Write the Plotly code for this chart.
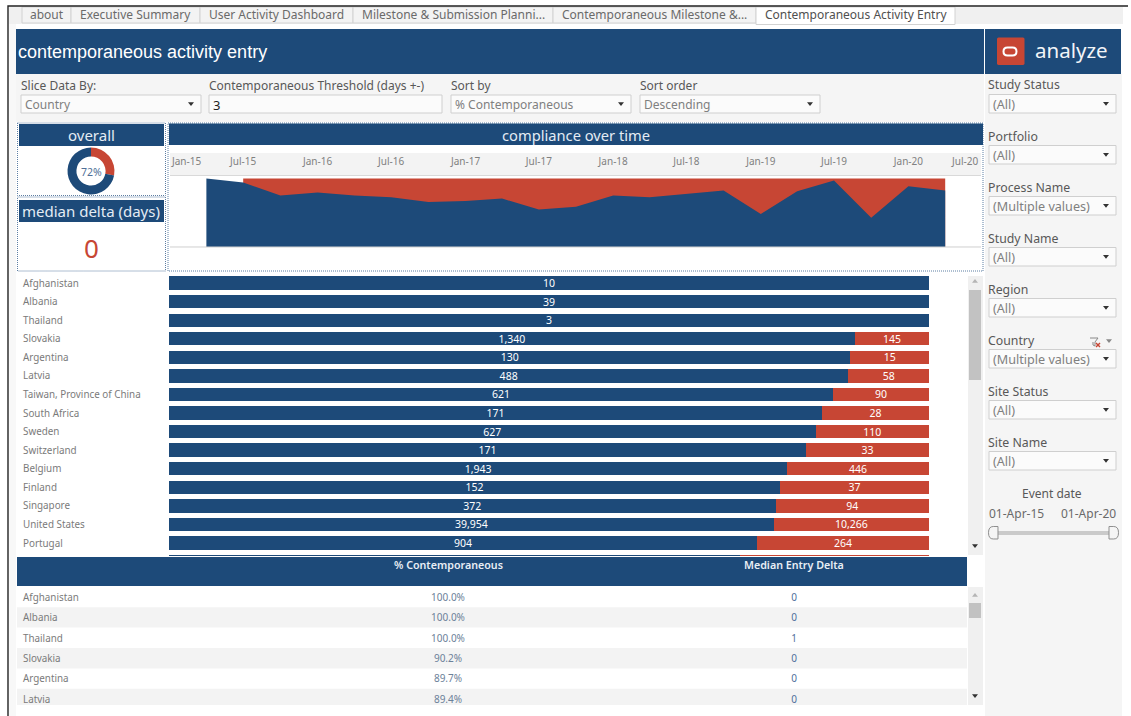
import plotly.graph_objects as go

# ---------- data ----------
bar_countries = ["Afghanistan", "Albania", "Thailand", "Slovakia", "Argentina", "Latvia",
                 "Taiwan, Province of China", "South Africa", "Sweden", "Switzerland", "Belgium",
                 "Finland", "Singapore", "United States", "Portugal", " "]
contemporaneous = [10, 39, 3, 1340, 130, 488, 621, 171, 627, 171, 1943, 152, 372, 39954, 904, 751]
not_contemporaneous = [0, 0, 0, 145, 15, 58, 90, 28, 110, 33, 446, 37, 94, 10266, 264, 249]

quarters = ["2015-04-01", "2015-07-01", "2015-10-01", "2016-01-01", "2016-04-01", "2016-07-01",
            "2016-10-01", "2017-01-01", "2017-04-01", "2017-07-01", "2017-10-01", "2018-01-01",
            "2018-04-01", "2018-07-01", "2018-10-01", "2019-01-01", "2019-04-01", "2019-07-01",
            "2019-10-01", "2020-01-01", "2020-04-01"]
pct_contemporaneous = [100, 94.1, 75.0, 79.4, 75.0, 72.5, 65.7, 67.2, 70.6, 54.9, 58.8, 75.0,
                       72.5, 77.5, 82.4, 48.0, 81.4, 97.0, 42.6, 88.7, 82.4]
pct_not_contemporaneous = [None, 5.9, 25.0, 20.6, 25.0, 27.5, 34.3, 32.8, 29.4, 45.1, 41.2, 25.0,
                           27.5, 22.5, 17.6, 52.0, 18.6, 3.0, 57.4, 11.3, 17.6]
time_ticks = ["2015-07-01", "2016-01-01", "2016-07-01", "2017-01-01", "2017-07-01", "2018-01-01",
              "2018-07-01", "2019-01-01", "2019-07-01", "2020-01-01"]

overall_split = [28, 72]
overall_label = "72%"
median_delta = "0"

table_countries = ["Afghanistan", "Albania", "Thailand", "Slovakia", "Argentina", "Latvia"]
table_pct = ["100.0%", "100.0%", "100.0%", "90.2%", "89.7%", "89.4%"]
table_median = ["0", "0", "1", "0", "0", "0"]
table_columns = ["% Contemporaneous", "Median Entry Delta"]

tabs = ["about", "Executive Summary", "User Activity Dashboard", "Milestone & Submission Planni...",
        "Contemporaneous Milestone &...", "Contemporaneous Activity Entry"]
side_filters = ["Study Status", "Portfolio", "Process Name", "Study Name", "Region", "Country",
                "Site Status", "Site Name"]
side_values = ["(All)", "(All)", "(Multiple values)", "(All)", "(All)", "(Multiple values)",
               "(All)", "(All)"]

# ---------- style ----------
W, H = 1131, 716
BLUE, RED = "#1d4a79", "#c74634"
PANEL = "#f5f5f5"
FONT = "Noto Sans"
GREY_TXT = "#7a7a7a"
DOT = "#5d7ea3"


def X(x):
    return x / W


def Y(y):
    return 1 - y / H


shapes, notes = [], []


def rect(x0, y0, x1, y1, fill=None, line=None, dash=None, lw=1):
    shapes.append(dict(type="rect", xref="paper", yref="paper", x0=X(x0), x1=X(x1), y0=Y(y0), y1=Y(y1),
                       fillcolor=fill or "rgba(0,0,0,0)", layer="below",
                       line=dict(color=line or "rgba(0,0,0,0)", width=lw if line else 0, dash=dash or "solid")))


def poly(points, fill=None, line=None, lw=1):
    path = "M " + " L ".join(f"{X(a):.5f},{Y(b):.5f}" for a, b in points) + (" Z" if fill else "")
    shapes.append(dict(type="path", xref="paper", yref="paper", path=path, layer="above",
                       fillcolor=fill or "rgba(0,0,0,0)",
                       line=dict(color=line or "rgba(0,0,0,0)", width=lw if line else 0)))


def rounded(x0, y0, x1, y1, r, fill=None, line=None, lw=1):
    p = (f"M {X(x0 + r):.5f},{Y(y0):.5f} L {X(x1 - r):.5f},{Y(y0):.5f} "
         f"Q {X(x1):.5f},{Y(y0):.5f} {X(x1):.5f},{Y(y0 + r):.5f} L {X(x1):.5f},{Y(y1 - r):.5f} "
         f"Q {X(x1):.5f},{Y(y1):.5f} {X(x1 - r):.5f},{Y(y1):.5f} L {X(x0 + r):.5f},{Y(y1):.5f} "
         f"Q {X(x0):.5f},{Y(y1):.5f} {X(x0):.5f},{Y(y1 - r):.5f} L {X(x0):.5f},{Y(y0 + r):.5f} "
         f"Q {X(x0):.5f},{Y(y0):.5f} {X(x0 + r):.5f},{Y(y0):.5f} Z")
    shapes.append(dict(type="path", xref="paper", yref="paper", path=p, layer="above",
                       fillcolor=fill or "rgba(0,0,0,0)",
                       line=dict(color=line or "rgba(0,0,0,0)", width=lw if line else 0)))


def handle(flat, cap, y0, y1):
    mid = (y0 + y1) / 2
    p = (f"M {X(flat):.5f},{Y(y0):.5f} L {X((flat + cap) / 2):.5f},{Y(y0):.5f} "
         f"Q {X(cap):.5f},{Y(y0):.5f} {X(cap):.5f},{Y(mid):.5f} "
         f"Q {X(cap):.5f},{Y(y1):.5f} {X((flat + cap) / 2):.5f},{Y(y1):.5f} L {X(flat):.5f},{Y(y1):.5f} Z")
    shapes.append(dict(type="path", xref="paper", yref="paper", path=p, layer="above", fillcolor=PANEL,
                       line=dict(color="#8f8f8f", width=1)))


def text(x, y, s, size=12, color=GREY_TXT, anchor="left", family=FONT, weight=None):
    font = dict(size=size, color=color, family=family)
    if weight:
        font["weight"] = weight
    notes.append(dict(xref="paper", yref="paper", x=X(x), y=Y(y), text=s, showarrow=False, xanchor=anchor,
                      yanchor="middle", borderpad=0, borderwidth=0, font=font))


def down_arrow(cx, cy, color="#333333", s=3):
    poly([(cx - s, cy - s * 0.6), (cx + s, cy - s * 0.6), (cx, cy + s * 0.7)], fill=color)


def up_arrow(cx, cy, color="#b5b5b5", s=3):
    poly([(cx - s, cy + s * 0.6), (cx + s, cy + s * 0.6), (cx, cy - s * 0.7)], fill=color)


def dropdown(x0, y0, x1, y1, s, arrow=True, color="#808080", size=12):
    rect(x0, y0, x1, y1, fill="#fbfbfb", line="#cfcfcf")
    text(x0 + 4, (y0 + y1) / 2 + 0.7, s, size=size, color=color)
    if arrow:
        down_arrow(x1 - 10, (y0 + y1) / 2)


# page frame
rect(0, 0, W, H, fill="#ffffff")
rect(9, 6, 16, H, fill="#f8f8f8")
poly([(8, H), (8, 6), (1128, 6)], line="#222222", lw=1.4)

# tabs
tab_edges = [22, 71, 200, 353, 553, 756, 955]
rect(9, 7, 1123, 24, fill="#f0f0f0")
for i, t in enumerate(tabs):
    active = i == len(tabs) - 1
    rect(tab_edges[i], 7, tab_edges[i + 1], 24.5 if active else 23, fill="#ffffff" if active else "#f3f3f3", line="#d2d2d2")
    text((tab_edges[i] + tab_edges[i + 1]) / 2, 15, t, size=12, color="#505050" if active else "#6a6a6a", anchor="center")

# banner
rect(16, 29, 984, 74, fill=BLUE)
rect(985, 29, 1121, 74, fill=BLUE)
text(18, 52, "contemporaneous activity entry", size=18, color="#ffffff", family="Liberation Sans")
rounded(997, 37.5, 1024.5, 65, 1.5, fill=RED)
rounded(1003.5, 47.5, 1016.5, 55.5, 4, line="#ffffff", lw=2)
text(1035, 50, "analyze", size=20.5, color="#f2f5f8")

# filter band
rect(16, 74, 984, 122, fill=PANEL)
rect(985, 74, 1122, H, fill=PANEL)
text(21, 86, "Slice Data By:", size=12, color="#585858")
text(209, 86, "Contemporaneous Threshold (days +-)", size=12, color="#585858")
text(451, 86, "Sort by", size=12, color="#585858")
text(640, 86, "Sort order", size=12, color="#585858")
dropdown(21, 95, 201, 113, "Country")
dropdown(209, 95, 442, 113, "3", arrow=False, color="#222222", size=13)
dropdown(451, 95, 631, 113, "% Contemporaneous")
dropdown(640, 95, 820, 113, "Descending")

# side filters
for i, (name, val) in enumerate(zip(side_filters, side_values)):
    y = 85 + 51 * i
    text(988, y, name, size=12.3, color="#585858")
    dropdown(989, y + 9.5, 1116, y + 28, val, size=12.6)
poly([(1090, 338), (1098, 338), (1095, 342), (1095, 346), (1093, 345), (1093, 342)], line="#888888")
poly([(1096, 343), (1100, 347)], line=RED, lw=1.4)
poly([(1100, 343), (1096, 347)], line=RED, lw=1.4)
down_arrow(1109, 341, color="#888888")

# slider
text(1052, 493, "Event date", size=12, color="#585858", anchor="center")
text(989, 513, "01-Apr-15", size=12, color="#6a6a6a")
text(1116, 513, "01-Apr-20", size=12, color="#6a6a6a", anchor="right")
rect(995, 531, 1111, 535, fill="#cacaca")
handle(998, 988.5, 526.5, 539)
handle(1109, 1118.5, 526.5, 539)

# KPI and time panels
rect(17.5, 123, 165.5, 195.5, line=DOT, dash="1px,1px")
rect(17.5, 197, 165.5, 271, line=DOT, dash="1px,1px")
rect(168, 123, 983, 271, line=DOT, dash="1px,1px")
rect(19, 124, 164, 146, fill=BLUE)
rect(19, 200, 164, 222, fill=BLUE)
rect(169, 123.5, 983, 145, fill=BLUE)
rect(170, 153, 981, 175, fill="#f3f3f3")
poly([(170, 175.5), (981, 175.5)], line="#d9d9d9")
poly([(170, 247), (981, 247)], line="#cfcfcf")
text(91, 135, "overall", size=15, color="#e4ecf4", anchor="center")
text(91, 211, "median delta (days)", size=15, color="#e4ecf4", anchor="center")
text(576, 134.5, "compliance over time", size=14.7, color="#e4ecf4", anchor="center")
text(91, 248, median_delta, size=26, color=RED, anchor="center")
text(91, 171.5, overall_label, size=10.5, color="#4f6f97", anchor="center")

# scrollbars
for top, bottom, t0, t1 in [(276, 555, 290, 380), (587, 705, 603, 618)]:
    rect(968, top, 983, bottom, fill="#f0f0f0")
    rect(969, t0, 981, t1, fill="#c2c2c2")
    up_arrow(975, top + (5 if top == 276 else 8))
    down_arrow(975, bottom - 9)

# table chrome
rect(17, 557, 967, 586, fill=BLUE)
for i in range(1, 6, 2):
    rect(17, 586.8 + 20.4 * i, 967, min(586.8 + 20.4 * (i + 1), 705), fill="#f3f3f3")
text(448, 565, table_columns[0], size=10.7, color="#e8eef5", anchor="center", weight=600)
text(794, 565, table_columns[1], size=10.7, color="#e8eef5", anchor="center", weight=600)

# country labels
for c in bar_countries:
    notes.append(dict(xref="paper", yref="y", x=X(23), y=c, text=c, showarrow=False, xanchor="left", yanchor="middle",
                      borderpad=0, borderwidth=0, yshift=0.5, font=dict(size=9.85, color=GREY_TXT, family=FONT)))
for c in table_countries:
    notes.append(dict(xref="paper", yref="y3", x=X(23), y=c, text=c, showarrow=False, xanchor="left", yanchor="middle",
                      borderpad=0, borderwidth=0, yshift=1.5, font=dict(size=9.85, color=GREY_TXT, family=FONT)))

# end labels of the time axis
notes.append(dict(xref="x2", yref="paper", x="2015-01-01", y=Y(161), text="Jan-15", showarrow=False, xshift=16,
                  yanchor="middle", borderpad=0, font=dict(size=10, color="#808080", family=FONT)))
notes.append(dict(xref="x2", yref="paper", x="2020-07-01", y=Y(161), text="Jul-20", showarrow=False, xshift=-18,
                  yanchor="middle", borderpad=0, font=dict(size=10, color="#808080", family=FONT)))


def fmt(v):
    return f"{v:,}" if v else ""


# ---------- figure ----------
fig = go.Figure()

# stacked 100% bars
blue_labels = [fmt(v) for v in contemporaneous[:-1]] + [""]
red_labels = [fmt(v) for v in not_contemporaneous[:-1]] + [""]
for vals, lab, col in [(contemporaneous, blue_labels, BLUE), (not_contemporaneous, red_labels, RED)]:
    fig.add_trace(go.Bar(y=bar_countries, x=vals, orientation="h", marker=dict(color=col, line=dict(width=0)),
                         text=lab, textposition="inside", insidetextanchor="middle", textangle=0,
                         constraintext="none", cliponaxis=True,
                         textfont=dict(size=10.5, color="#ffffff", family=FONT),
                         xaxis="x", yaxis="y", hoverinfo="x+y"))

# compliance area
red_top = [None if r is None else b + r for b, r in zip(pct_contemporaneous, pct_not_contemporaneous)]
fig.add_trace(go.Scatter(x=quarters[1:], y=red_top[1:], mode="lines", line=dict(width=0), fill="tozeroy",
                         fillcolor=RED, xaxis="x2", yaxis="y2"))
fig.add_trace(go.Scatter(x=quarters, y=pct_contemporaneous, mode="lines", line=dict(width=0), fill="tozeroy",
                         fillcolor=BLUE, xaxis="x2", yaxis="y2"))

# table values
fig.add_trace(go.Scatter(x=[table_columns[0]] * 6, y=table_countries, mode="text", text=table_pct,
                         textposition="middle center", textfont=dict(size=10, color="#6c8199", family=FONT),
                         xaxis="x3", yaxis="y3", cliponaxis=True))
fig.add_trace(go.Scatter(x=[table_columns[1]] * 6, y=table_countries, mode="text", text=table_median,
                         textposition="middle center", textfont=dict(size=10, color="#4f6f9a", family=FONT),
                         xaxis="x3", yaxis="y3", cliponaxis=True))

# overall donut
fig.add_trace(go.Pie(values=overall_split, labels=["Not contemporaneous", "Contemporaneous"], sort=False,
                     direction="clockwise", rotation=0, hole=0.62, textinfo="none",
                     marker=dict(colors=[RED, BLUE], line=dict(width=0)),
                     domain=dict(x=[X(67.5), X(114.5)], y=[Y(194.5), Y(147.5)])))

hidden = dict(showgrid=False, zeroline=False, showticklabels=False, showline=False, ticks="")

fig.update_layout(
    width=W, height=H, margin=dict(l=0, r=0, t=0, b=0), autosize=False,
    paper_bgcolor="#ffffff", plot_bgcolor="rgba(0,0,0,0)", showlegend=False,
    barmode="stack", barnorm="percent", bargap=0.284,
    font=dict(family=FONT, color=GREY_TXT),
    shapes=shapes, annotations=notes,
    xaxis=dict(domain=[X(169), X(929)], range=[0, 100], anchor="y", **hidden),
    yaxis=dict(domain=[Y(556), Y(276)], type="category", categoryorder="array", categoryarray=bar_countries,
               range=[14.70, -0.377], anchor="x", **hidden),
    xaxis2=dict(domain=[X(170), X(982)], type="date", range=["2015-01-01", "2020-07-01"], side="top", anchor="y2",
                tickmode="array", tickvals=time_ticks, tickformat="%b-%y", ticks="", showgrid=False, zeroline=False,
                showline=False, tickfont=dict(size=10, color="#808080", family=FONT), ticklabelstandoff=8),
    yaxis2=dict(domain=[Y(247), Y(176)], range=[0, 103.6], anchor="x2", **hidden),
    xaxis3=dict(domain=[X(275), X(967)], type="category", categoryorder="array", categoryarray=table_columns,
                range=[-0.5, 1.5], anchor="y3", **hidden),
    yaxis3=dict(domain=[Y(705), Y(586)], type="category", categoryorder="array", categoryarray=table_countries,
                range=[5.232, -0.598], anchor="x3", **hidden),
)

fig.write_html("out.html", config=dict(displayModeBar=False),
               post_script="document.body.style.margin='0';document.body.style.overflow='hidden';")
